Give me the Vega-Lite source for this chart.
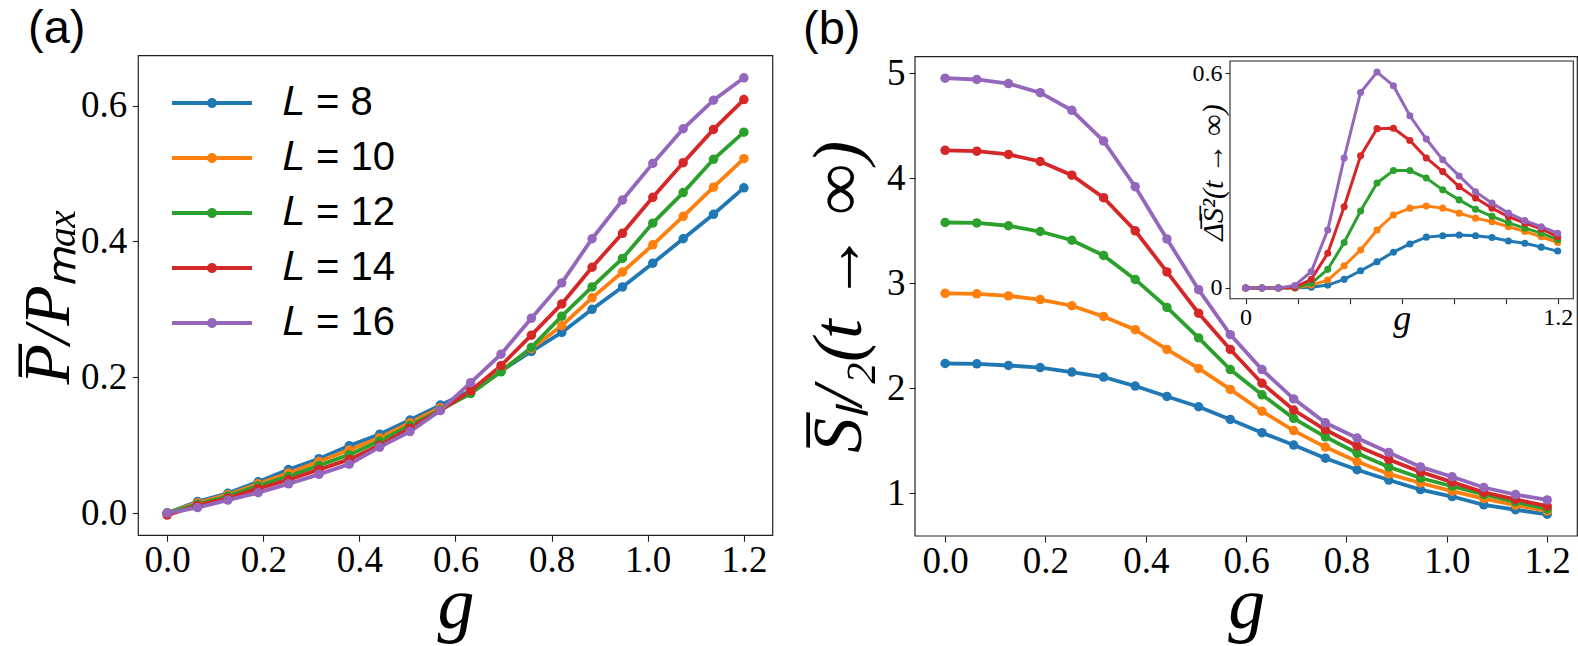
{
"$schema":"https://vega.github.io/schema/vega-lite/v6.json",
"width":1578,"height":646,
"autosize":{"type":"fit","contains":"padding"},
"padding":0,
"background":"white",
"config":{"view":{"stroke":null},"font":"Liberation Serif",
 "axis":{"domain":false,"grid":false,"tickColor":"#222","tickWidth":1.1,"labelFont":"Liberation Serif","labelColor":"black","titleFont":"Liberation Serif","titleColor":"black","titleFontWeight":"normal","labelFlush":false,"labelOverlap":false,"labelBound":false},
 "legend":{"labelFont":"Liberation Sans"}},
"datasets":{
"pa":[
{"g":0,"L":8,"v":0},{"g":0.0632,"L":8,"v":0.017},{"g":0.1263,"L":8,"v":0.029},{"g":0.1895,"L":8,"v":0.046},{"g":0.2526,"L":8,"v":0.064},{"g":0.3158,"L":8,"v":0.08},{"g":0.3789,"L":8,"v":0.099},{"g":0.4421,"L":8,"v":0.116},{"g":0.5053,"L":8,"v":0.137},{"g":0.5684,"L":8,"v":0.159},{"g":0.6316,"L":8,"v":0.18},{"g":0.6947,"L":8,"v":0.209},{"g":0.7579,"L":8,"v":0.238},{"g":0.8211,"L":8,"v":0.266},{"g":0.8842,"L":8,"v":0.3},{"g":0.9474,"L":8,"v":0.333},{"g":1.0105,"L":8,"v":0.368},{"g":1.0737,"L":8,"v":0.404},{"g":1.1368,"L":8,"v":0.44},{"g":1.2,"L":8,"v":0.479},
{"g":0,"L":10,"v":0},{"g":0.0632,"L":10,"v":0.015},{"g":0.1263,"L":10,"v":0.027},{"g":0.1895,"L":10,"v":0.043},{"g":0.2526,"L":10,"v":0.059},{"g":0.3158,"L":10,"v":0.076},{"g":0.3789,"L":10,"v":0.093},{"g":0.4421,"L":10,"v":0.111},{"g":0.5053,"L":10,"v":0.133},{"g":0.5684,"L":10,"v":0.155},{"g":0.6316,"L":10,"v":0.178},{"g":0.6947,"L":10,"v":0.21},{"g":0.7579,"L":10,"v":0.242},{"g":0.8211,"L":10,"v":0.276},{"g":0.8842,"L":10,"v":0.317},{"g":0.9474,"L":10,"v":0.355},{"g":1.0105,"L":10,"v":0.395},{"g":1.0737,"L":10,"v":0.437},{"g":1.1368,"L":10,"v":0.48},{"g":1.2,"L":10,"v":0.522},
{"g":0,"L":12,"v":0},{"g":0.0632,"L":12,"v":0.013},{"g":0.1263,"L":12,"v":0.025},{"g":0.1895,"L":12,"v":0.04},{"g":0.2526,"L":12,"v":0.054},{"g":0.3158,"L":12,"v":0.07},{"g":0.3789,"L":12,"v":0.086},{"g":0.4421,"L":12,"v":0.106},{"g":0.5053,"L":12,"v":0.129},{"g":0.5684,"L":12,"v":0.152},{"g":0.6316,"L":12,"v":0.176},{"g":0.6947,"L":12,"v":0.208},{"g":0.7579,"L":12,"v":0.244},{"g":0.8211,"L":12,"v":0.29},{"g":0.8842,"L":12,"v":0.333},{"g":0.9474,"L":12,"v":0.375},{"g":1.0105,"L":12,"v":0.427},{"g":1.0737,"L":12,"v":0.472},{"g":1.1368,"L":12,"v":0.521},{"g":1.2,"L":12,"v":0.561},
{"g":0,"L":14,"v":-0.003},{"g":0.0632,"L":14,"v":0.011},{"g":0.1263,"L":14,"v":0.022},{"g":0.1895,"L":14,"v":0.036},{"g":0.2526,"L":14,"v":0.049},{"g":0.3158,"L":14,"v":0.064},{"g":0.3789,"L":14,"v":0.079},{"g":0.4421,"L":14,"v":0.1},{"g":0.5053,"L":14,"v":0.125},{"g":0.5684,"L":14,"v":0.151},{"g":0.6316,"L":14,"v":0.18},{"g":0.6947,"L":14,"v":0.217},{"g":0.7579,"L":14,"v":0.262},{"g":0.8211,"L":14,"v":0.308},{"g":0.8842,"L":14,"v":0.362},{"g":0.9474,"L":14,"v":0.412},{"g":1.0105,"L":14,"v":0.465},{"g":1.0737,"L":14,"v":0.516},{"g":1.1368,"L":14,"v":0.565},{"g":1.2,"L":14,"v":0.609},
{"g":0,"L":16,"v":0},{"g":0.0632,"L":16,"v":0.008},{"g":0.1263,"L":16,"v":0.019},{"g":0.1895,"L":16,"v":0.03},{"g":0.2526,"L":16,"v":0.043},{"g":0.3158,"L":16,"v":0.057},{"g":0.3789,"L":16,"v":0.072},{"g":0.4421,"L":16,"v":0.097},{"g":0.5053,"L":16,"v":0.12},{"g":0.5684,"L":16,"v":0.151},{"g":0.6316,"L":16,"v":0.192},{"g":0.6947,"L":16,"v":0.234},{"g":0.7579,"L":16,"v":0.287},{"g":0.8211,"L":16,"v":0.339},{"g":0.8842,"L":16,"v":0.404},{"g":0.9474,"L":16,"v":0.461},{"g":1.0105,"L":16,"v":0.515},{"g":1.0737,"L":16,"v":0.566},{"g":1.1368,"L":16,"v":0.608},{"g":1.2,"L":16,"v":0.641}
],
"pb":[
{"g":0,"L":8,"v":2.236},{"g":0.0632,"L":8,"v":2.233},{"g":0.1263,"L":8,"v":2.217},{"g":0.1895,"L":8,"v":2.197},{"g":0.2526,"L":8,"v":2.154},{"g":0.3158,"L":8,"v":2.107},{"g":0.3789,"L":8,"v":2.021},{"g":0.4421,"L":8,"v":1.922},{"g":0.5053,"L":8,"v":1.824},{"g":0.5684,"L":8,"v":1.703},{"g":0.6316,"L":8,"v":1.577},{"g":0.6947,"L":8,"v":1.459},{"g":0.7579,"L":8,"v":1.334},{"g":0.8211,"L":8,"v":1.224},{"g":0.8842,"L":8,"v":1.126},{"g":0.9474,"L":8,"v":1.035},{"g":1.0105,"L":8,"v":0.969},{"g":1.0737,"L":8,"v":0.89},{"g":1.1368,"L":8,"v":0.843},{"g":1.2,"L":8,"v":0.8},
{"g":0,"L":10,"v":2.904},{"g":0.0632,"L":10,"v":2.9},{"g":0.1263,"L":10,"v":2.88},{"g":0.1895,"L":10,"v":2.845},{"g":0.2526,"L":10,"v":2.786},{"g":0.3158,"L":10,"v":2.684},{"g":0.3789,"L":10,"v":2.558},{"g":0.4421,"L":10,"v":2.37},{"g":0.5053,"L":10,"v":2.189},{"g":0.5684,"L":10,"v":1.989},{"g":0.6316,"L":10,"v":1.781},{"g":0.6947,"L":10,"v":1.597},{"g":0.7579,"L":10,"v":1.44},{"g":0.8211,"L":10,"v":1.302},{"g":0.8842,"L":10,"v":1.184},{"g":0.9474,"L":10,"v":1.098},{"g":1.0105,"L":10,"v":1.02},{"g":1.0737,"L":10,"v":0.949},{"g":1.1368,"L":10,"v":0.886},{"g":1.2,"L":10,"v":0.831},
{"g":0,"L":12,"v":3.579},{"g":0.0632,"L":12,"v":3.575},{"g":0.1263,"L":12,"v":3.548},{"g":0.1895,"L":12,"v":3.493},{"g":0.2526,"L":12,"v":3.41},{"g":0.3158,"L":12,"v":3.265},{"g":0.3789,"L":12,"v":3.037},{"g":0.4421,"L":12,"v":2.77},{"g":0.5053,"L":12,"v":2.48},{"g":0.5684,"L":12,"v":2.178},{"g":0.6316,"L":12,"v":1.938},{"g":0.6947,"L":12,"v":1.714},{"g":0.7579,"L":12,"v":1.538},{"g":0.8211,"L":12,"v":1.381},{"g":0.8842,"L":12,"v":1.251},{"g":0.9474,"L":12,"v":1.145},{"g":1.0105,"L":12,"v":1.067},{"g":1.0737,"L":12,"v":0.988},{"g":1.1368,"L":12,"v":0.918},{"g":1.2,"L":12,"v":0.851},
{"g":0,"L":14,"v":4.266},{"g":0.0632,"L":14,"v":4.258},{"g":0.1263,"L":14,"v":4.227},{"g":0.1895,"L":14,"v":4.16},{"g":0.2526,"L":14,"v":4.03},{"g":0.3158,"L":14,"v":3.815},{"g":0.3789,"L":14,"v":3.5},{"g":0.4421,"L":14,"v":3.108},{"g":0.5053,"L":14,"v":2.715},{"g":0.5684,"L":14,"v":2.37},{"g":0.6316,"L":14,"v":2.048},{"g":0.6947,"L":14,"v":1.793},{"g":0.7579,"L":14,"v":1.605},{"g":0.8211,"L":14,"v":1.451},{"g":0.8842,"L":14,"v":1.322},{"g":0.9474,"L":14,"v":1.204},{"g":1.0105,"L":14,"v":1.106},{"g":1.0737,"L":14,"v":1.008},{"g":1.1368,"L":14,"v":0.941},{"g":1.2,"L":14,"v":0.878},
{"g":0,"L":16,"v":4.953},{"g":0.0632,"L":16,"v":4.941},{"g":0.1263,"L":16,"v":4.902},{"g":0.1895,"L":16,"v":4.815},{"g":0.2526,"L":16,"v":4.647},{"g":0.3158,"L":16,"v":4.356},{"g":0.3789,"L":16,"v":3.92},{"g":0.4421,"L":16,"v":3.422},{"g":0.5053,"L":16,"v":2.939},{"g":0.5684,"L":16,"v":2.511},{"g":0.6316,"L":16,"v":2.178},{"g":0.6947,"L":16,"v":1.899},{"g":0.7579,"L":16,"v":1.671},{"g":0.8211,"L":16,"v":1.526},{"g":0.8842,"L":16,"v":1.389},{"g":0.9474,"L":16,"v":1.251},{"g":1.0105,"L":16,"v":1.157},{"g":1.0737,"L":16,"v":1.055},{"g":1.1368,"L":16,"v":0.988},{"g":1.2,"L":16,"v":0.937}
],
"pi":[
{"g":0,"L":8,"v":0},{"g":0.0632,"L":8,"v":0},{"g":0.1263,"L":8,"v":0},{"g":0.1895,"L":8,"v":0},{"g":0.2526,"L":8,"v":0.002},{"g":0.3158,"L":8,"v":0.008},{"g":0.3789,"L":8,"v":0.024},{"g":0.4421,"L":8,"v":0.048},{"g":0.5053,"L":8,"v":0.073},{"g":0.5684,"L":8,"v":0.1},{"g":0.6316,"L":8,"v":0.123},{"g":0.6947,"L":8,"v":0.142},{"g":0.7579,"L":8,"v":0.146},{"g":0.8211,"L":8,"v":0.148},{"g":0.8842,"L":8,"v":0.146},{"g":0.9474,"L":8,"v":0.141},{"g":1.0105,"L":8,"v":0.131},{"g":1.0737,"L":8,"v":0.125},{"g":1.1368,"L":8,"v":0.114},{"g":1.2,"L":8,"v":0.103},
{"g":0,"L":10,"v":0},{"g":0.0632,"L":10,"v":0},{"g":0.1263,"L":10,"v":0},{"g":0.1895,"L":10,"v":0},{"g":0.2526,"L":10,"v":0.008},{"g":0.3158,"L":10,"v":0.022},{"g":0.3789,"L":10,"v":0.062},{"g":0.4421,"L":10,"v":0.106},{"g":0.5053,"L":10,"v":0.162},{"g":0.5684,"L":10,"v":0.204},{"g":0.6316,"L":10,"v":0.223},{"g":0.6947,"L":10,"v":0.229},{"g":0.7579,"L":10,"v":0.223},{"g":0.8211,"L":10,"v":0.209},{"g":0.8842,"L":10,"v":0.195},{"g":0.9474,"L":10,"v":0.185},{"g":1.0105,"L":10,"v":0.171},{"g":1.0737,"L":10,"v":0.158},{"g":1.1368,"L":10,"v":0.143},{"g":1.2,"L":10,"v":0.127},
{"g":0,"L":12,"v":0},{"g":0.0632,"L":12,"v":0},{"g":0.1263,"L":12,"v":0},{"g":0.1895,"L":12,"v":0.001},{"g":0.2526,"L":12,"v":0.013},{"g":0.3158,"L":12,"v":0.052},{"g":0.3789,"L":12,"v":0.127},{"g":0.4421,"L":12,"v":0.215},{"g":0.5053,"L":12,"v":0.293},{"g":0.5684,"L":12,"v":0.328},{"g":0.6316,"L":12,"v":0.328},{"g":0.6947,"L":12,"v":0.307},{"g":0.7579,"L":12,"v":0.274},{"g":0.8211,"L":12,"v":0.246},{"g":0.8842,"L":12,"v":0.22},{"g":0.9474,"L":12,"v":0.2},{"g":1.0105,"L":12,"v":0.182},{"g":1.0737,"L":12,"v":0.167},{"g":1.1368,"L":12,"v":0.153},{"g":1.2,"L":12,"v":0.135},
{"g":0,"L":14,"v":0},{"g":0.0632,"L":14,"v":0},{"g":0.1263,"L":14,"v":0},{"g":0.1895,"L":14,"v":0.002},{"g":0.2526,"L":14,"v":0.024},{"g":0.3158,"L":14,"v":0.097},{"g":0.3789,"L":14,"v":0.227},{"g":0.4421,"L":14,"v":0.369},{"g":0.5053,"L":14,"v":0.445},{"g":0.5684,"L":14,"v":0.446},{"g":0.6316,"L":14,"v":0.412},{"g":0.6947,"L":14,"v":0.363},{"g":0.7579,"L":14,"v":0.325},{"g":0.8211,"L":14,"v":0.283},{"g":0.8842,"L":14,"v":0.251},{"g":0.9474,"L":14,"v":0.223},{"g":1.0105,"L":14,"v":0.199},{"g":1.0737,"L":14,"v":0.181},{"g":1.1368,"L":14,"v":0.165},{"g":1.2,"L":14,"v":0.143},
{"g":0,"L":16,"v":0},{"g":0.0632,"L":16,"v":0},{"g":0.1263,"L":16,"v":0},{"g":0.1895,"L":16,"v":0.007},{"g":0.2526,"L":16,"v":0.046},{"g":0.3158,"L":16,"v":0.162},{"g":0.3789,"L":16,"v":0.363},{"g":0.4421,"L":16,"v":0.546},{"g":0.5053,"L":16,"v":0.603},{"g":0.5684,"L":16,"v":0.565},{"g":0.6316,"L":16,"v":0.481},{"g":0.6947,"L":16,"v":0.416},{"g":0.7579,"L":16,"v":0.358},{"g":0.8211,"L":16,"v":0.313},{"g":0.8842,"L":16,"v":0.269},{"g":0.9474,"L":16,"v":0.237},{"g":1.0105,"L":16,"v":0.209},{"g":1.0737,"L":16,"v":0.188},{"g":1.1368,"L":16,"v":0.171},{"g":1.2,"L":16,"v":0.153}
]
},
"layer":[
 {"data":{"values":[{}]},"mark":{"type":"rect","filled":false,"stroke":"#222","strokeWidth":1.2},
  "encoding":{"x":{"datum":-0.06,"type":"quantitative","scale":{"domain":[-0.06,1.26],"range":[138.3,772.7],"nice":false,"zero":false},"axis":null},"x2":{"datum":1.26},
   "y":{"datum":-0.0328,"type":"quantitative","scale":{"domain":[-0.0328,0.6736],"range":[535.3,55.7],"nice":false,"zero":false},"axis":null},"y2":{"datum":0.6736}}},
 {"data":{"values":[{}]},"mark":{"type":"text","text":"(a)","font":"Liberation Sans","fontSize":47,"align":"left","baseline":"alphabetic","color":"black"},
  "encoding":{"x":{"datum":-0.2895,"type":"quantitative","scale":{"domain":[-0.06,1.26],"range":[138.3,772.7],"nice":false,"zero":false},"axis":null},
   "y":{"datum":0.6916,"type":"quantitative","scale":{"domain":[-0.0328,0.6736],"range":[535.3,55.7],"nice":false,"zero":false},"axis":null}}},
 {"data":{"name":"pa"},"mark":{"type":"line","strokeWidth":3.8},
  "encoding":{"x":{"field":"g","type":"quantitative","scale":{"domain":[-0.06,1.26],"range":[138.3,772.7],"nice":false,"zero":false},
     "axis":{"orient":"bottom","offset":-110.7,"values":[0,0.2,0.4,0.6,0.8,1,1.2],"format":".1f","tickSize":6,"labelFont":"Liberation Serif","labelFontSize":37,"labelPadding":1,"title":"g","titleFont":"Liberation Serif","titleFontSize":74,"titleFontStyle":"italic","titleBaseline":"alphabetic","titleY":92}},
   "y":{"field":"v","type":"quantitative","scale":{"domain":[-0.0328,0.6736],"range":[535.3,55.7],"nice":false,"zero":false},
     "axis":{"orient":"left","offset":-138.3,"values":[0,0.2,0.4,0.6],"format":".1f","tickSize":6,"labelFont":"Liberation Serif","labelFontSize":37,"labelPadding":5.6,"title":"P̅/Pₘₐₓ","titleFont":"Liberation Serif","titleFontSize":66,"titleFontStyle":"italic","titleBaseline":"alphabetic","titleX":-70}},
   "color":{"field":"L","type":"nominal","scale":{"domain":[8,10,12,14,16],"range":["#1f77b4","#ff7f0e","#2ca02c","#d62728","#9467bd"]},
     "legend":{"title":null,"orient":"none","legendX":192,"legendY":83,"padding":0,"symbolType":"M-8,-0.38H8V0.38H-8Z M-1,0A1,1 0 1,1 1,0A1,1 0 1,1 -1,0Z","symbolSize":100,"symbolStrokeWidth":0,"symbolOpacity":1,"labelFont":"Liberation Sans","labelFontSize":40,"labelColor":"black","labelOffset":50,"rowPadding":15,"labelExpr":"'𝐿 = ' + datum.label","encode":{"symbols":{"update":{"fill":{"scale":"color","field":"value"},"opacity":{"value":1}}}}}}}},
 {"data":{"name":"pa"},"mark":{"type":"circle","size":90,"opacity":1},
  "encoding":{"x":{"field":"g","type":"quantitative","scale":{"domain":[-0.06,1.26],"range":[138.3,772.7],"nice":false,"zero":false},"axis":null},
   "y":{"field":"v","type":"quantitative","scale":{"domain":[-0.0328,0.6736],"range":[535.3,55.7],"nice":false,"zero":false},"axis":null},
   "color":{"field":"L","type":"nominal","scale":{"domain":[8,10,12,14,16],"range":["#1f77b4","#ff7f0e","#2ca02c","#d62728","#9467bd"]}}}},
 {"data":{"values":[{}]},"mark":{"type":"rect","filled":false,"stroke":"#222","strokeWidth":1.2},
  "encoding":{"x":{"datum":-0.06,"type":"quantitative","scale":{"domain":[-0.06,1.26],"range":[915,1577.3],"nice":false,"zero":false},"axis":null},"x2":{"datum":1.26},
   "y":{"datum":0.593,"type":"quantitative","scale":{"domain":[0.593,5.158],"range":[536,56.7],"nice":false,"zero":false},"axis":null},"y2":{"datum":5.158}}},
 {"data":{"values":[{}]},"mark":{"type":"text","text":"(b)","font":"Liberation Sans","fontSize":47,"align":"left","baseline":"alphabetic","color":"black"},
  "encoding":{"x":{"datum":-0.2832,"type":"quantitative","scale":{"domain":[-0.06,1.26],"range":[915,1577.3],"nice":false,"zero":false},"axis":null},
   "y":{"datum":5.283,"type":"quantitative","scale":{"domain":[0.593,5.158],"range":[536,56.7],"nice":false,"zero":false},"axis":null}}},
 {"data":{"name":"pb"},"mark":{"type":"line","strokeWidth":3.8},
  "encoding":{"x":{"field":"g","type":"quantitative","scale":{"domain":[-0.06,1.26],"range":[915,1577.3],"nice":false,"zero":false},
     "axis":{"orient":"bottom","offset":-110,"values":[0,0.2,0.4,0.6,0.8,1,1.2],"format":".1f","tickSize":6,"labelFont":"Liberation Serif","labelFontSize":37,"labelPadding":1,"title":"g","titleFont":"Liberation Serif","titleFontSize":74,"titleFontStyle":"italic","titleBaseline":"alphabetic","titleY":91.5}},
   "y":{"field":"v","type":"quantitative","scale":{"domain":[0.593,5.158],"range":[536,56.7],"nice":false,"zero":false},
     "axis":{"orient":"left","offset":-915,"values":[1,2,3,4,5],"format":"d","tickSize":6,"labelFont":"Liberation Serif","labelFontSize":37,"labelPadding":4,"title":"S̅ₗ/₂(t → ∞)","titleFont":"Liberation Serif","titleFontSize":70,"titleFontStyle":"italic","titleBaseline":"alphabetic","titleX":-55}},
   "color":{"field":"L","type":"nominal","scale":{"domain":[8,10,12,14,16],"range":["#1f77b4","#ff7f0e","#2ca02c","#d62728","#9467bd"]}}}},
 {"data":{"name":"pb"},"mark":{"type":"circle","size":90,"opacity":1},
  "encoding":{"x":{"field":"g","type":"quantitative","scale":{"domain":[-0.06,1.26],"range":[915,1577.3],"nice":false,"zero":false},"axis":null},
   "y":{"field":"v","type":"quantitative","scale":{"domain":[0.593,5.158],"range":[536,56.7],"nice":false,"zero":false},"axis":null},
   "color":{"field":"L","type":"nominal","scale":{"domain":[8,10,12,14,16],"range":["#1f77b4","#ff7f0e","#2ca02c","#d62728","#9467bd"]}}}},
 {"data":{"values":[{}]},"mark":{"type":"rect","fill":"white","stroke":"#222","strokeWidth":1.1},
  "encoding":{"x":{"datum":-0.06,"type":"quantitative","scale":{"domain":[-0.06,1.26],"range":[1230,1573.3],"nice":false,"zero":false},"axis":null},"x2":{"datum":1.26},
   "y":{"datum":-0.03,"type":"quantitative","scale":{"domain":[-0.03,0.634],"range":[298.7,61],"nice":false,"zero":false},"axis":null},"y2":{"datum":0.634}}},
 {"data":{"name":"pi"},"mark":{"type":"line","strokeWidth":3},
  "encoding":{"x":{"field":"g","type":"quantitative","scale":{"domain":[-0.06,1.26],"range":[1230,1573.3],"nice":false,"zero":false},
     "axis":{"orient":"bottom","offset":-347.3,"values":[0,0.2,0.4,0.6,0.8,1,1.2],"labelExpr":"datum.value == 0 ? '0' : (datum.value > 1.1 ? '1.2' : '')","tickSize":5,"labelFont":"Liberation Serif","labelFontSize":24,"labelPadding":2,"title":"g","titleFont":"Liberation Serif","titleFontSize":36,"titleFontStyle":"italic","titleBaseline":"alphabetic","titleY":30.8}},
   "y":{"field":"v","type":"quantitative","scale":{"domain":[-0.03,0.634],"range":[298.7,61],"nice":false,"zero":false},
     "axis":{"orient":"left","offset":-1230,"values":[0,0.6],"labelExpr":"datum.value == 0 ? '0' : '0.6'","tickSize":5,"labelFont":"Liberation Serif","labelFontSize":24,"labelPadding":3,"title":"Δ̅S̅²(t → ∞)","titleFont":"Liberation Serif","titleFontSize":30,"titleFontStyle":"italic","titleBaseline":"alphabetic","titleX":-8,"titleY":172}},
   "color":{"field":"L","type":"nominal","scale":{"domain":[8,10,12,14,16],"range":["#1f77b4","#ff7f0e","#2ca02c","#d62728","#9467bd"]}}}},
 {"data":{"name":"pi"},"mark":{"type":"circle","size":50,"opacity":1},
  "encoding":{"x":{"field":"g","type":"quantitative","scale":{"domain":[-0.06,1.26],"range":[1230,1573.3],"nice":false,"zero":false},"axis":null},
   "y":{"field":"v","type":"quantitative","scale":{"domain":[-0.03,0.634],"range":[298.7,61],"nice":false,"zero":false},"axis":null},
   "color":{"field":"L","type":"nominal","scale":{"domain":[8,10,12,14,16],"range":["#1f77b4","#ff7f0e","#2ca02c","#d62728","#9467bd"]}}}}
],
"resolve":{"scale":{"x":"independent","y":"independent"},"axis":{"x":"independent","y":"independent"}}
}
